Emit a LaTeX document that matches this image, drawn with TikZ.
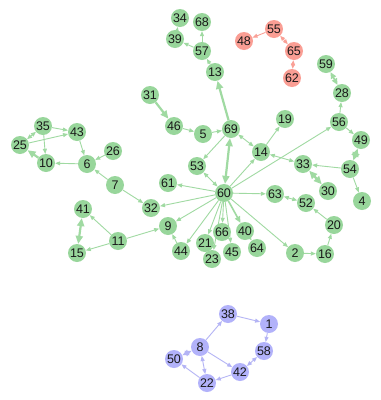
\documentclass[tikz,border=0pt]{standalone}
\usepackage{fontspec}
\setmainfont{Liberation Sans}
\usetikzlibrary{arrows.meta}
\definecolor{gn}{RGB}{152,214,155}
\definecolor{ge}{RGB}{160,218,162}
\definecolor{rn}{RGB}{250,158,148}
\definecolor{re}{RGB}{250,160,150}
\definecolor{bn}{RGB}{178,178,250}
\definecolor{be}{RGB}{180,180,245}
\pgfdeclarelayer{bg}
\pgfdeclarelayer{edges}
\pgfsetlayers{bg,edges,main}
\tikzset{
  vtx/.style={circle, minimum size=18pt, inner sep=0pt, font=\fontsize{12.5}{12.5}\selectfont, text=black!90},
  gv/.style={vtx, fill=gn},
  rv/.style={vtx, fill=rn},
  bvx/.style={vtx, fill=bn},
  ed/.style={line width=0.9pt, -{Triangle[length=5pt,width=4pt]}},
  edb/.style={line width=0.9pt, {Triangle[length=5pt,width=4pt]}-{Triangle[length=5pt,width=4pt]}},
  edt/.style={line width=2.2pt, -{Triangle[length=8pt,width=7pt]}},
  edtb/.style={line width=2.2pt, {Triangle[length=8pt,width=7pt]}-{Triangle[length=8pt,width=7pt]}},
  edm/.style={line width=1.6pt, -{Triangle[length=6.5pt,width=5.5pt]}},
  edmb/.style={line width=1.6pt, {Triangle[length=6.5pt,width=5.5pt]}-{Triangle[length=6.5pt,width=5.5pt]}},
}
\begin{document}
\begin{tikzpicture}[x=1pt,y=-1pt]
\begin{pgfonlayer}{bg}
\fill[white] (0,0) rectangle (381,400);
\end{pgfonlayer}
\useasboundingbox (0,0) rectangle (381,400);
% green nodes
\node[gv] (n34) at (180,18) {34};
\node[gv] (n68) at (202,22) {68};
\node[gv] (n39) at (175,39) {39};
\node[gv] (n57) at (202,51) {57};
\node[gv] (n13) at (215,72) {13};
\node[gv] (n59) at (326,64) {59};
\node[gv] (n28) at (342,93) {28};
\node[gv] (n31) at (150,95) {31};
\node[gv] (n46) at (174,126) {46};
\node[gv] (n5) at (203,134) {5};
\node[gv] (n69) at (231,129) {69};
\node[gv] (n19) at (285,119) {19};
\node[gv] (n56) at (339,122) {56};
\node[gv] (n49) at (361,140) {49};
\node[gv] (n35) at (43,126) {35};
\node[gv] (n43) at (77,132) {43};
\node[gv] (n25) at (20,145) {25};
\node[gv] (n10) at (46,163) {10};
\node[gv] (n6) at (87,164) {6};
\node[gv] (n26) at (113,151) {26};
\node[gv] (n14) at (261,152) {14};
\node[gv] (n53) at (197,166) {53};
\node[gv] (n33) at (303,164) {33};
\node[gv] (n54) at (350,169) {54};
\node[gv] (n30) at (328,191) {30};
\node[gv] (n4) at (362,201) {4};
\node[gv] (n7) at (115,185) {7};
\node[gv] (n61) at (168,183) {61};
\node[gv] (n60) at (224,193) {60};
\node[gv] (n63) at (275,194) {63};
\node[gv] (n52) at (306,203) {52};
\node[gv] (n20) at (334,225) {20};
\node[gv] (n32) at (151,208) {32};
\node[gv] (n41) at (83,209) {41};
\node[gv] (n11) at (118,241) {11};
\node[gv] (n9) at (168,226) {9};
\node[gv] (n15) at (77,253) {15};
\node[gv] (n44) at (181,251) {44};
\node[gv] (n21) at (205,243) {21};
\node[gv] (n66) at (222,232) {66};
\node[gv] (n40) at (245,231) {40};
\node[gv] (n23) at (212,259) {23};
\node[gv] (n45) at (232,252) {45};
\node[gv] (n64) at (257,248) {64};
\node[gv] (n2) at (295,253) {2};
\node[gv] (n16) at (325,254) {16};
% red nodes
\node[rv] (n55) at (274,29) {55};
\node[rv] (n48) at (244,41) {48};
\node[rv] (n65) at (294,51) {65};
\node[rv] (n62) at (292,78) {62};
% blue nodes
\node[bvx] (n38) at (228,314) {38};
\node[bvx] (n1) at (269,324) {1};
\node[bvx] (n8) at (200,347) {8};
\node[bvx] (n58) at (264,351) {58};
\node[bvx] (n50) at (174,359) {50};
\node[bvx] (n42) at (240,372) {42};
\node[bvx] (n22) at (207,383) {22};
\begin{pgfonlayer}{edges}
\begin{scope}[draw=ge, color=ge]
\draw[ed] (n39) -- (n34);
\draw[ed] (n57) -- (n39);
\draw[ed] (n57) -- (n68);
\draw[ed] (n13) -- (n57);
\draw[edt] (n69) -- (n13);
\draw[edt] (n31) -- (n46);
\draw[ed] (n46) -- (n5);
\draw[ed] (n5) -- (n69);
\draw[ed] (n69) -- (n53);
\draw[edtb] (n60) -- (n69);
\draw[edb] (n14) -- (n69);
\draw[ed] (n14) -- (n19);
\draw[ed] (n60) -- (n14);
\draw[edb] (n14) -- (n33);
\draw[ed] (n60) -- (n56);
\draw[ed] (n56) -- (n28);
\draw[edmb] (n28) -- (n59);
\draw[ed] (n56) -- (n49);
\draw[edtb] (n54) -- (n49);
\draw[ed] (n54) -- (n33);
\draw[ed] (n54) -- (n4);
\draw[edtb] (n30) -- (n33);
\draw[ed] (n60) -- (n63);
\draw[edb] (n63) -- (n52);
\draw[ed] (n20) -- (n52);
\draw[ed] (n16) -- (n20);
\draw[ed] (n2) -- (n16);
\draw[ed] (n60) -- (n2);
\draw[edb] (n60) -- (n53);
\draw[ed] (n60) -- (n61);
\draw[ed] (n60) -- (n32);
\draw[ed] (n7) -- (n32);
\draw[ed] (n7) -- (n6);
\draw[ed] (n26) -- (n6);
\draw[ed] (n43) -- (n6);
\draw[ed] (n6) -- (n10);
\draw[edt] (n10) -- (n25);
\draw[ed] (n35) -- (n10);
\draw[ed] (n35) -- (n43);
\draw[ed] (n25) -- (n43);
\draw[edb] (n25) -- (n35);
\draw[ed] (n60) -- (n9);
\draw[ed] (n11) -- (n9);
\draw[ed] (n44) -- (n9);
\draw[ed] (n60) -- (n44);
\draw[ed] (n11) -- (n41);
\draw[ed] (n11) -- (n15);
\draw[edtb] (n41) -- (n15);
\draw[ed] (n60) -- (n21);
\draw[ed] (n60) -- (n23);
\draw[ed] (n60) -- (n66);
\draw[ed] (n60) -- (n45);
\draw[edm] (n60) -- (n40);
\draw[ed] (n40) -- (n64);
\end{scope}
\begin{scope}[draw=re, color=re]
\draw[ed] (n55) -- (n48);
\draw[edb] (n65) -- (n55);
\draw[edb] (n62) -- (n65);
\end{scope}
\begin{scope}[draw=be, color=be]
\draw[ed] (n8) -- (n38);
\draw[ed] (n38) -- (n1);
\draw[ed] (n1) -- (n58);
\draw[edb] (n58) -- (n42);
\draw[ed] (n8) -- (n42);
\draw[ed] (n42) -- (n22);
\draw[edb] (n8) -- (n22);
\draw[edmb] (n50) -- (n8);
\draw[ed] (n22) -- (n50);
\end{scope}
\end{pgfonlayer}
\end{tikzpicture}
\end{document}
